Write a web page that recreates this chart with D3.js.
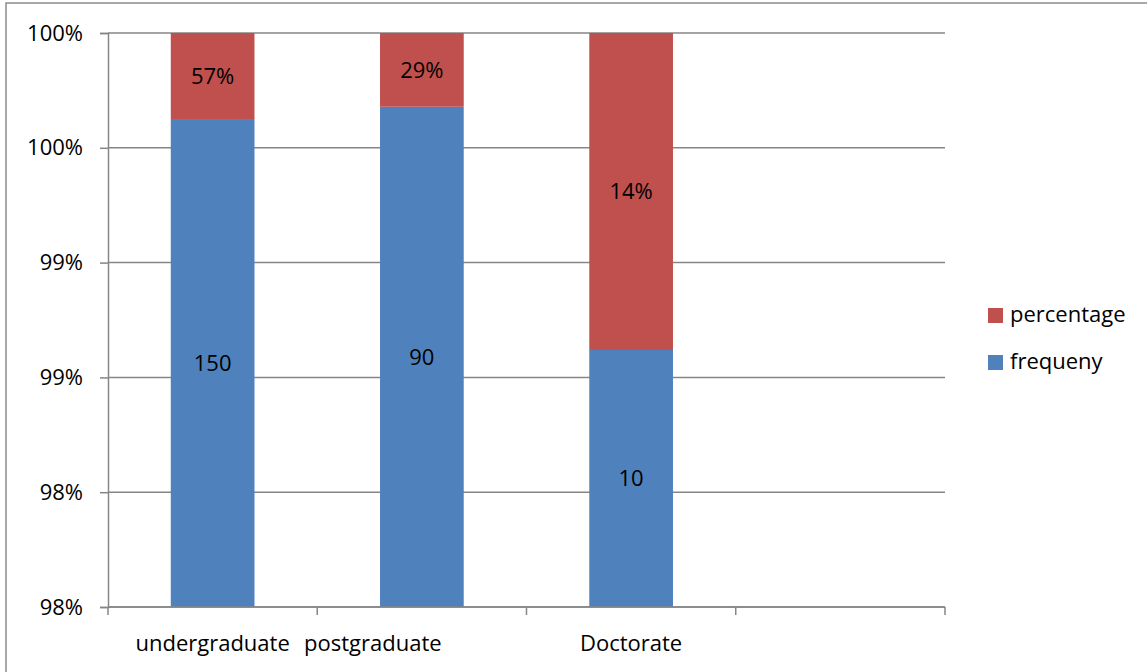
<!DOCTYPE html>
<html>
<head>
<meta charset="utf-8">
<script src="https://cdn.jsdelivr.net/npm/d3@7/dist/d3.min.js"></script>
<style>
  html, body { margin: 0; padding: 0; background: #fff; }
  svg { display: block; font-family: "Open Sans", "Noto Sans", sans-serif; }
</style>
</head>
<body>
<svg id="chart" width="1147" height="672"></svg>
<script>
// chart data
let categories = ["undergraduate", "postgraduate", "Doctorate", ""];
let frequeny = [150, 90, 10, null];
let percentage = [0.57, 0.29, 0.14, null];

let seriesNames = ["frequeny", "percentage"];
let seriesColors = ["#4F81BD", "#C0504D"];

let yTickValues = [0.975, 0.98, 0.985, 0.99, 0.995, 1.0];
let yTickLabels = ["98%", "98%", "99%", "99%", "100%", "100%"];

let svg = d3.select("#chart");
let fontSize = "22px";

let margin = {left: 108, right: 202, top: 33, bottom: 65};
let width = 1147 - margin.left - margin.right;
let height = 672 - margin.top - margin.bottom;

// outer frame
svg.append("rect")
    .attr("x", 6).attr("y", 3)
    .attr("width", 1160).attr("height", 700)
    .attr("fill", "none")
    .attr("stroke", "#8c8c8c")
    .attr("stroke-width", 1.5);

let g = svg.append("g")
    .attr("transform", `translate(${margin.left},${margin.top})`);

let x = d3.scaleBand()
    .domain(d3.range(categories.length))
    .range([0, width])
    .paddingInner(0.6)
    .paddingOuter(0.3);

let y = d3.scaleLinear()
    .domain([0.975, 1])
    .range([height, 0]);

let rows = categories.map(function (c, i) {
    return {i: i, frequeny: frequeny[i] || 0, percentage: percentage[i] || 0};
}).filter(function (d) { return d.frequeny + d.percentage > 0; });

let stacked = d3.stack()
    .keys(seriesNames)
    .offset(d3.stackOffsetExpand)(rows);

// gridlines
g.append("g").selectAll("line.grid")
    .data(yTickValues)
    .enter()
    .append("line").classed("grid", true)
    .attr("x1", 0).attr("x2", width)
    .attr("y1", function (d) { return y(d); })
    .attr("y2", function (d) { return y(d); })
    .attr("stroke", "#868686")
    .attr("stroke-width", 1.5);

// bars
let layers = g.append("g").selectAll("g.layer")
    .data(stacked)
    .enter()
    .append("g").classed("layer", true)
    .attr("fill", function (d, i) { return seriesColors[i]; });

function segTop(d) { return y(Math.min(d[1], 1)); }
function segBottom(d) { return y(Math.max(d[0], y.domain()[0])); }

layers.selectAll("rect")
    .data(function (d) { return d; })
    .enter()
    .append("rect")
    .attr("x", function (d) { return x(d.data.i); })
    .attr("width", x.bandwidth())
    .attr("y", segTop)
    .attr("height", function (d) { return Math.max(0, segBottom(d) - segTop(d)); });

// data labels
let pctFormat = d3.format(".0%");
layers.each(function (layer) {
    let key = layer.key;
    d3.select(this).selectAll("text")
        .data(layer)
        .enter()
        .append("text")
        .attr("x", function (d) { return x(d.data.i) + x.bandwidth() / 2; })
        .attr("y", function (d) { return (segTop(d) + segBottom(d)) / 2; })
        .attr("dy", "0.36em")
        .attr("text-anchor", "middle")
        .attr("fill", "#000")
        .style("font-size", fontSize)
        .text(function (d) {
            return key === "percentage" ? pctFormat(d.data.percentage) : d.data.frequeny;
        });
});

// y axis
let yAxis = d3.axisLeft(y)
    .tickValues(yTickValues)
    .tickSize(8)
    .tickPadding(17)
    .tickFormat(function (d, i) { return yTickLabels[i]; });

let yg = g.append("g").call(yAxis);
yg.select(".domain").attr("stroke", "#868686").attr("stroke-width", 1.5);
yg.selectAll(".tick line").attr("stroke", "#868686").attr("stroke-width", 1.5);
yg.selectAll(".tick text")
    .attr("fill", "#000")
    .style("font-size", fontSize)
    .style("font-family", "'Open Sans', sans-serif");

// x axis
let xEdges = d3.scaleLinear().domain([0, categories.length]).range([0, width]);
let xg = g.append("g").attr("transform", `translate(0,${height})`);
xg.append("line")
    .attr("x1", 0).attr("x2", width)
    .attr("stroke", "#868686").attr("stroke-width", 1.5);
xg.selectAll("line.tick")
    .data(d3.range(categories.length + 1))
    .enter()
    .append("line").classed("tick", true)
    .attr("x1", function (d) { return xEdges(d); })
    .attr("x2", function (d) { return xEdges(d); })
    .attr("y1", 0).attr("y2", 8)
    .attr("stroke", "#868686").attr("stroke-width", 1.5);

// category labels (second label sits left of its slot in the original)
let labelShift = [0, -49, 0, 0];
xg.selectAll("text.cat")
    .data(categories)
    .enter()
    .append("text").classed("cat", true)
    .attr("x", function (d, i) { return x(i) + x.bandwidth() / 2 + labelShift[i]; })
    .attr("y", 44)
    .attr("text-anchor", "middle")
    .attr("fill", "#000")
    .style("font-size", fontSize)
    .text(function (d) { return d; });

// legend
let legend = svg.append("g")
    .attr("transform", "translate(988,308)");
let legendItems = legend.selectAll("g.item")
    .data(seriesNames.slice().reverse())
    .enter()
    .append("g").classed("item", true)
    .attr("transform", function (d, i) { return `translate(0,${i * 47})`; });
legendItems.append("rect")
    .attr("width", 15).attr("height", 15)
    .attr("fill", function (d) { return seriesColors[seriesNames.indexOf(d)]; });
legendItems.append("text")
    .attr("x", 22).attr("y", 14)
    .attr("fill", "#000")
    .style("font-size", fontSize)
    .text(function (d) { return d; });
</script>
</body>
</html>
